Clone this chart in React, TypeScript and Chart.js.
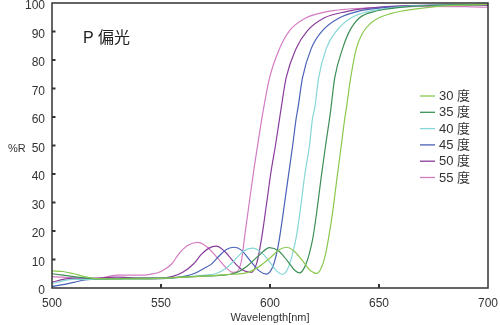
import React, { useEffect, useRef } from "react";
import { Chart, registerables } from "chart.js";

Chart.register(...registerables);

const xTicks = [500, 550, 600, 650, 700];
const yTicks = [0, 10, 20, 30, 40, 50, 60, 70, 80, 90, 100];
const seriesLabels = ["30 度", "35 度", "40 度", "45 度", "50 度", "55 度"];
const seriesColors = ["#8cc84f", "#3d8f57", "#86d6d6", "#4a62b8", "#8a3c9c", "#d47cc2"];

const wl30 = [500, 505, 510, 515, 520, 530, 540, 550, 560, 570, 580, 590, 595, 600, 604, 607.6, 611, 615, 618, 621.4, 623.5, 625.5, 626.9, 628.8, 630.8, 632.7, 634.3, 635.2, 637, 639.6, 642.5, 646, 650, 655, 660, 670, 680, 700];
const r30 = [6, 5.8, 5, 4, 3.3, 3.2, 3.2, 3.4, 3.8, 4.2, 4.7, 5.5, 7.5, 10.5, 13.3, 14.3, 13, 9.5, 6.5, 5.1, 7, 12, 17.7, 27, 39, 50, 59.5, 64, 73.7, 84, 89.5, 92.8, 94.8, 96.2, 97.1, 98.2, 99, 99.5];

const wl35 = [500, 505, 510, 515, 520, 530, 540, 550, 560, 570, 580, 585, 590, 595, 599.8, 604, 608, 611, 613.6, 616, 618, 619.7, 621.5, 623.5, 625.5, 627.6, 629.7, 633.3, 636.6, 641.1, 648, 655, 665, 680, 700];
const r35 = [5, 4.5, 4, 3.5, 3.2, 3.3, 3.5, 3.5, 3.8, 4.2, 4.6, 5.5, 8, 11.5, 14.2, 13, 9.5, 6.5, 5.3, 7.5, 12, 17.7, 27, 39, 50, 61, 73.7, 84, 90.3, 94.8, 97, 98, 98.8, 99.3, 99.5];

const wl40 = [500, 505, 510, 520, 530, 540, 550, 560, 570, 575, 580, 584, 588, 592, 596, 600, 603, 605.7, 608, 610, 612, 614, 616, 618.1, 619.5, 620.5, 622.3, 625.8, 630.6, 637.3, 645, 655, 665, 680, 700];
const r40 = [1.5, 2.5, 3, 3, 3, 3.2, 3.5, 3.8, 4.5, 5, 7, 10, 13, 14, 12.5, 9, 6, 4.8, 6.5, 11, 17.7, 28, 40, 50, 59.5, 63, 73.7, 84, 90.3, 94.8, 97, 98.2, 98.9, 99.3, 99.5];

const wl45 = [500, 505, 510, 515, 520, 530, 540, 550, 560, 565, 570, 573, 577, 580, 583.7, 587, 591, 595, 598.4, 601, 603, 604.4, 606, 608, 610.4, 612, 612.8, 614.9, 618.9, 624.1, 631.9, 640, 650, 660, 680, 700];
const r45 = [0.5, 1.2, 2, 2.8, 3.2, 3.3, 3.2, 3.3, 4, 5, 7, 8.3, 11.5, 13.5, 14.3, 13.2, 9.5, 6, 4.9, 7, 12, 17.7, 26, 37, 50, 59.5, 63, 73.7, 84, 90.3, 94.8, 97, 98.2, 98.8, 99.3, 99.5];

const wl50 = [500, 505, 510, 520, 530, 540, 550, 555, 560, 565, 568.5, 572, 575.4, 579, 583, 587, 591.5, 594, 596.2, 598.5, 600.5, 602.5, 604.4, 605.1, 607.4, 612, 617.2, 625, 635, 645, 660, 680, 700];
const r50 = [2, 3, 3.5, 3.5, 3.8, 3.5, 3.5, 4, 5.5, 8.5, 11.8, 14, 14.7, 13, 9.5, 6.5, 5.5, 9, 17.7, 30, 41, 50, 59.5, 63, 73.7, 84, 90.3, 94.8, 97, 98.2, 99, 99.3, 99.2];

const wl55 = [500, 505, 510, 520, 530, 540, 545, 550, 555, 558, 562, 566.7, 571, 576, 580, 583, 585, 587, 588.3, 590.5, 592.5, 594.3, 596.6, 599.8, 604.4, 609, 616.6, 625, 635, 650, 670, 690, 700];
const r55 = [4, 3.8, 3.5, 3.3, 4.5, 4.5, 4.8, 5.8, 8.5, 11.8, 14.8, 16, 14.5, 10.5, 7, 5.5, 5.8, 10, 17.7, 30, 41, 50, 61, 73.7, 84, 90.3, 94.8, 96.8, 97.8, 98.4, 98.8, 98.7, 98.5];

const seriesX = [wl30, wl35, wl40, wl45, wl50, wl55];
const seriesY = [r30, r35, r40, r45, r50, r55];

const chartTitle = "P 偏光";
const yTitle = "%R";
const xTitle = "Wavelength[nm]";

const FONT = "'Liberation Sans', 'Noto Sans CJK JP', sans-serif";

export default function App() {
  const ref = useRef<HTMLCanvasElement | null>(null);

  useEffect(() => {
    document.body.style.margin = "0";
    const canvas = ref.current;
    if (!canvas) return;

    const decor = {
      id: "decor",
      afterDatasetsDraw(chart: any) {
        const { ctx, chartArea } = chart;
        const xs = chart.scales.x;
        const ys = chart.scales.y;
        ctx.save();
        ctx.strokeStyle = "#333";
        ctx.lineWidth = 1.5;
        ctx.strokeRect(chartArea.left, chartArea.top, chartArea.right - chartArea.left, chartArea.bottom - chartArea.top);
        ctx.lineWidth = 2;
        yTicks.forEach((v) => {
          if (v === 0 || v === 100) return;
          const y = ys.getPixelForValue(v);
          ctx.beginPath();
          ctx.moveTo(chartArea.left, y);
          ctx.lineTo(chartArea.left + 3.5, y);
          ctx.stroke();
        });
        xTicks.forEach((v, i) => {
          if (i === 0 || i === xTicks.length - 1) return;
          const x = xs.getPixelForValue(v);
          ctx.beginPath();
          ctx.moveTo(x, chartArea.bottom);
          ctx.lineTo(x, chartArea.bottom - 4);
          ctx.stroke();
        });
        // y title
        ctx.fillStyle = "#333";
        ctx.font = `11px ${FONT}`;
        ctx.textAlign = "left";
        ctx.textBaseline = "middle";
        ctx.fillText(yTitle, 8, 149);
        // chart title
        ctx.fillStyle = "#222";
        ctx.font = `16px ${FONT}`;
        ctx.fillText(chartTitle, 83, 39);
        // legend
        ctx.font = `13px ${FONT}`;
        chart.data.datasets.forEach((ds: any, i: number) => {
          const y = 96 + i * 16.3;
          ctx.strokeStyle = ds.borderColor;
          ctx.lineWidth = 1.3;
          ctx.beginPath();
          ctx.moveTo(420, y);
          ctx.lineTo(435, y);
          ctx.stroke();
          ctx.fillStyle = "#333";
          ctx.fillText(ds.label, 439, y + 0.5);
        });
        ctx.restore();
      },
    };

    const chart = new Chart(canvas, {
      type: "line",
      data: {
        datasets: seriesLabels.map((label, i) => ({
          label,
          data: seriesX[i].map((x, j) => ({ x, y: seriesY[i][j] })),
          borderColor: seriesColors[i],
          backgroundColor: seriesColors[i],
          borderWidth: 1.2,
          pointRadius: 0,
          cubicInterpolationMode: "monotone" as const,
          fill: false,
        })),
      },
      options: {
        responsive: false,
        animation: false,
        devicePixelRatio: 1,
        layout: { padding: { left: 0, right: 12, top: 3, bottom: 0 } },
        plugins: {
          legend: { display: false },
          tooltip: { enabled: false },
          title: { display: false },
        },
        scales: {
          x: {
            type: "linear",
            min: 500,
            max: 700,
            afterBuildTicks: (scale: any) => {
              scale.ticks = xTicks.map((v) => ({ value: v }));
            },
            afterFit: (scale: any) => {
              scale.height = 37;
              scale.paddingLeft = 0;
              scale.paddingRight = 0;
            },
            grid: { display: false, drawTicks: false },
            border: { display: false },
            ticks: {
              color: "#333",
              font: { size: 12, family: FONT },
              padding: 8,
              maxRotation: 0,
            },
            title: {
              display: true,
              text: xTitle,
              color: "#333",
              font: { size: 11, family: FONT },
              padding: { top: 3, bottom: 0 },
            },
          },
          y: {
            type: "linear",
            min: 0,
            max: 100,
            afterBuildTicks: (scale: any) => {
              scale.ticks = yTicks.map((v) => ({ value: v }));
            },
            afterFit: (scale: any) => {
              scale.width = 52;
              scale.paddingTop = 0;
              scale.paddingBottom = 0;
            },
            grid: { display: false, drawTicks: false },
            border: { display: false },
            ticks: {
              color: "#333",
              font: { size: 12, family: FONT },
              padding: 7,
              labelOffset: 3,
            },
          },
        },
      },
      plugins: [decor],
    });

    return () => chart.destroy();
  }, []);

  return (
    <div style={{ width: 500, height: 325 }}>
      <canvas ref={ref} width={500} height={325} style={{ display: "block" }} />
    </div>
  );
}
